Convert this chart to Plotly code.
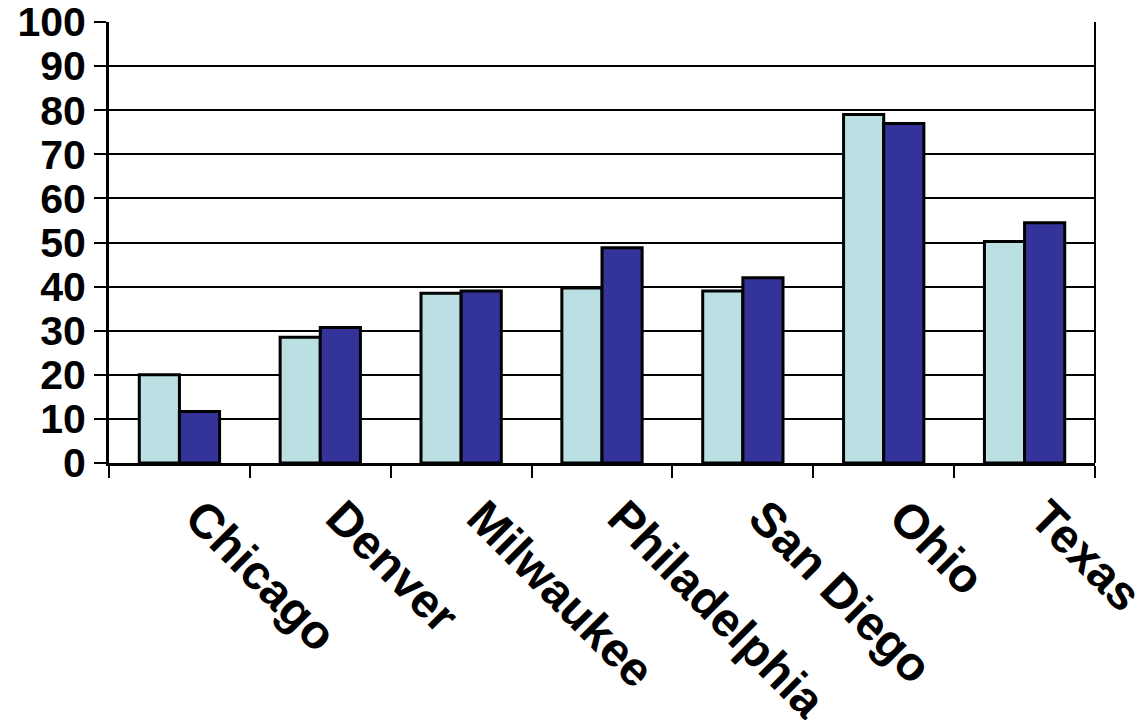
import plotly.graph_objects as go

categories = ["Chicago", "Denver", "Milwaukee", "Philadelphia", "San Diego", "Ohio", "Texas"]
series_a = [20, 28.5, 38.5, 39.7, 39, 79, 50.2]
series_b = [11.7, 30.7, 39, 48.8, 42, 77, 54.5]
y_ticks = [0, 10, 20, 30, 40, 50, 60, 70, 80, 90, 100]

FONT = "Liberation Sans, Arial, sans-serif"

fig = go.Figure()
fig.add_trace(go.Bar(x=categories, y=series_a, name="Series 1",
                     marker=dict(color="#BAE0E3", line=dict(color="black", width=3))))
fig.add_trace(go.Bar(x=categories, y=series_b, name="Series 2",
                     marker=dict(color="#333399", line=dict(color="black", width=3))))

fig.update_layout(
    width=1143, height=724,
    margin=dict(l=109, r=48, t=22, b=261),
    paper_bgcolor="white", plot_bgcolor="white",
    barmode="group", bargap=0.43, bargroupgap=0,
    showlegend=False,
    font=dict(family=FONT, color="black"),
)
fig.update_yaxes(
    range=[0, 100], tickvals=y_ticks, ticktext=[f"<b>{v}</b>" for v in y_ticks],
    showgrid=True, gridcolor="black", gridwidth=2,
    showline=True, linecolor="black", linewidth=3, mirror=False,
    ticks="outside", ticklen=12, tickwidth=2, tickcolor="black",
    tickfont=dict(size=41, family=FONT, color="black"),
    ticklabeloverflow="allow",
    zeroline=False, automargin=False,
)
fig.update_xaxes(
    tickvals=categories, ticktext=[f"<b>{c}</b>" for c in categories],
    tickson="boundaries", ticks="outside", ticklen=12, tickwidth=2, tickcolor="black",
    showline=True, linecolor="black", linewidth=3,
    tickangle=45, tickfont=dict(size=48, family=FONT, color="black"),
    ticklabelshift=20, ticklabelstandoff=4,
    automargin=False,
)
# right border line of the plot area
fig.add_shape(type="line", xref="paper", yref="paper", x0=1, x1=1, y0=0, y1=1,
              line=dict(color="black", width=2))

fig.write_html("out.html")
